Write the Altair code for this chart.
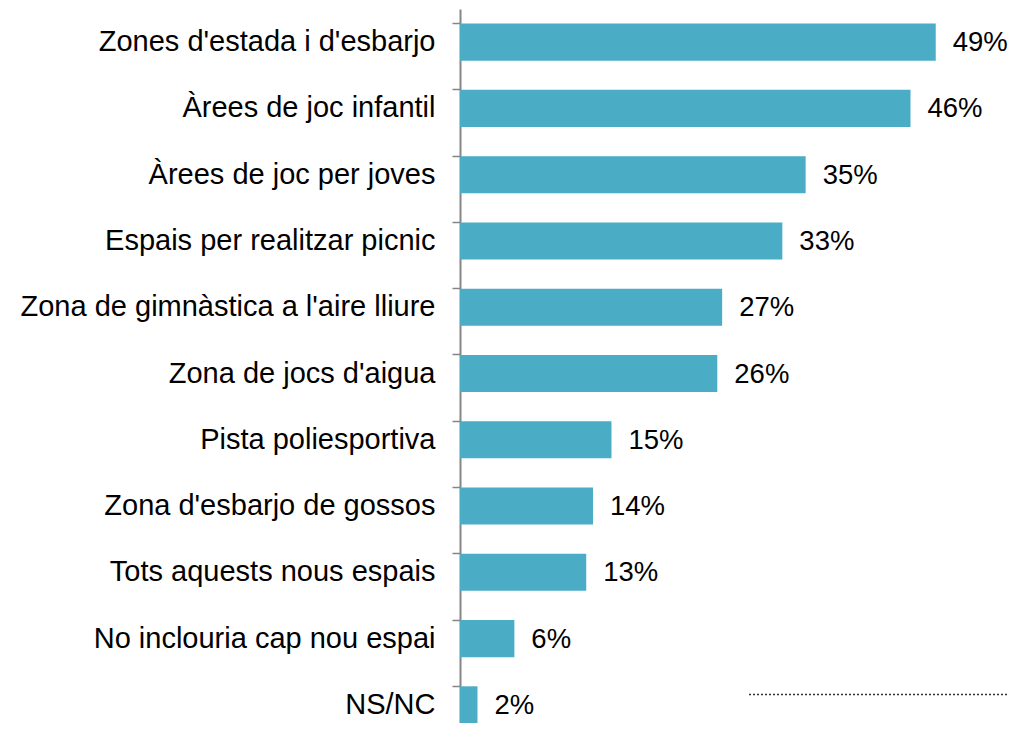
import altair as alt
import pandas as pd

categories = [
    "Zones d'estada i d'esbarjo",
    "Àrees de joc infantil",
    "Àrees de joc per joves",
    "Espais per realitzar picnic",
    "Zona de gimnàstica a l'aire lliure",
    "Zona de jocs d'aigua",
    "Pista poliesportiva",
    "Zona d'esbarjo de gossos",
    "Tots aquests nous espais",
    "No inclouria cap nou espai",
    "NS/NC",
]
values = [49.0, 46.4, 35.6, 33.2, 27.0, 26.5, 15.6, 13.7, 13.0, 5.6, 1.8]
labels = ["49%", "46%", "35%", "33%", "27%", "26%", "15%", "14%", "13%", "6%", "2%"]

df = pd.DataFrame({"cat": categories, "val": values, "lab": labels})

FONT = "Liberation Sans"
BAR = "#4BACC6"
AXIS = "#868686"

y_enc = alt.Y(
    "cat:N",
    sort=categories,
    title=None,
    scale=alt.Scale(range=[0, 729], paddingInner=0.44, paddingOuter=0.22),
    axis=alt.Axis(
        bandPosition=0,
        tickSize=8,
        tickColor=AXIS,
        tickWidth=1.5,
        domainColor=AXIS,
        domainWidth=2,
        labelFont=FONT,
        labelFontSize=29,
        labelColor="#000000",
        labelPadding=17,
        labelLimit=600,
    ),
)
x_enc = alt.X("val:Q", scale=alt.Scale(domain=[0, 55]), axis=None)

bars = alt.Chart(df).mark_bar(color=BAR).encode(x=x_enc, y=y_enc)
text = alt.Chart(df).mark_text(
    align="left", baseline="middle", dx=17, dy=1, font=FONT, fontSize=27.5, color="#000000"
).encode(x=x_enc, y=alt.Y("cat:N", sort=categories), text="lab:N")

dots = alt.Chart(pd.DataFrame({"a": [0]})).mark_rule(
    color="#333333", strokeDash=[2, 2], strokeWidth=1.5
).encode(x=alt.value(289), x2=alt.value(620), y=alt.value(685.5))

chart = (
    alt.layer(bars, text, dots)
    .properties(
        width=534,
        height=714,
        autosize=alt.AutoSizeParams(type="none"),
        padding={"left": 452, "top": 1, "right": 14, "bottom": 0},
    )
    .configure_view(stroke=None)
)

chart.save("out.html", embed_options={"renderer": "svg", "actions": False})
